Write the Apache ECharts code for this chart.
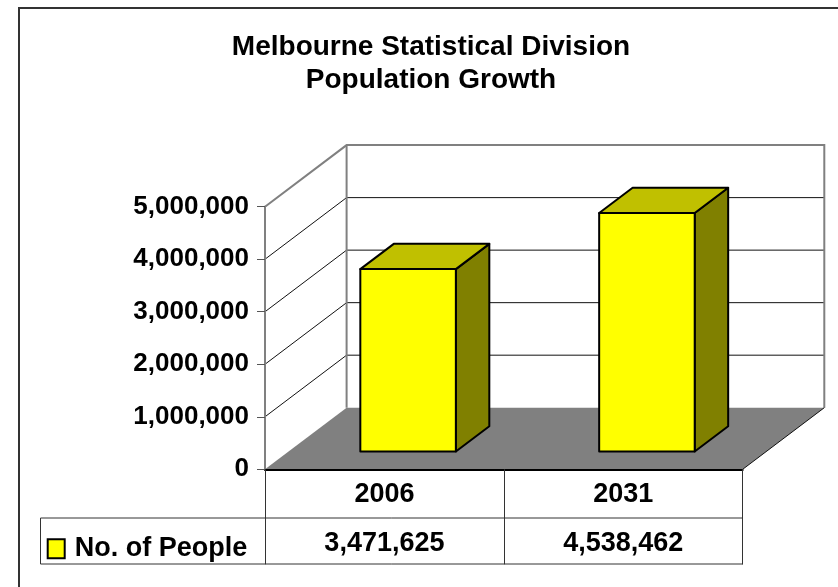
<!DOCTYPE html>
<html>
<head>
<meta charset="utf-8">
<title>Melbourne Statistical Division Population Growth</title>
<script src="https://cdn.jsdelivr.net/npm/echarts@6/dist/echarts.min.js"></script>
<style>
  html, body { margin: 0; padding: 0; background: #fff; }
  #chart { width: 838px; height: 587px; }
</style>
</head>
<body>
<div id="chart"></div>
<script>
// ---- data ----
const titleLines = ['Melbourne Statistical Division', 'Population Growth'];
const categories = ['2006', '2031'];
const seriesName = 'No. of People';
const people = [3471625, 4538462];
const yTicks = [0, 1000000, 2000000, 3000000, 4000000, 5000000];

// ---- look ----
const FONT = '"Liberation Sans", Arial, sans-serif';
const DEPTH_X = 81.6;      // horizontal run of the floor depth
const DEPTH_Y = -61.6;     // vertical run of the floor depth
const BAR_FRONT = 0.29;    // bar front face position along the depth
const BAR_BACK = 0.70;     // bar back face position along the depth
const BAR_WIDTH = 0.40;    // share of a category band
const WALL_EDGE = '#808080';

function fmt(n) {
  return String(n).replace(/\B(?=(\d{3})+(?!\d))/g, ',');
}

const chart = echarts.init(document.getElementById('chart'), null, { renderer: 'canvas' });

// walls, floor and 3D gridlines, laid out from the value axis
function renderWalls(params, api) {
  const cs = params.coordSys;
  const x0 = cs.x, x1 = cs.x + cs.width;
  const yb = api.coord([0, yTicks[0]])[1];
  const yt = api.coord([0, yTicks[yTicks.length - 1]])[1];
  const bx0 = x0 + DEPTH_X, bx1 = x1 + DEPTH_X;
  const children = [];
  // back wall
  children.push({ type: 'rect', shape: { x: bx0, y: yt + DEPTH_Y, width: bx1 - bx0, height: yb - yt },
    style: { fill: '#fff', stroke: null } });
  // side wall
  children.push({ type: 'polygon', shape: { points: [[x0, yb], [x0, yt], [bx0, yt + DEPTH_Y], [bx0, yb + DEPTH_Y]] },
    style: { fill: '#fff', stroke: null } });
  // floor
  children.push({ type: 'polygon', shape: { points: [[x0, yb], [x1, yb], [bx1, yb + DEPTH_Y], [bx0, yb + DEPTH_Y]] },
    style: { fill: '#808080', stroke: null } });
  // gridlines on side and back walls
  yTicks.slice(1, -1).forEach(function (v) {
    const y = api.coord([0, v])[1];
    children.push({ type: 'polyline', shape: { points: [[x0, y], [bx0, y + DEPTH_Y], [bx1, y + DEPTH_Y]] },
      style: { stroke: '#111', lineWidth: 1, fill: null } });
  });
  // wall borders
  children.push({ type: 'polyline', shape: { points: [[x0, yt], [bx0, yt + DEPTH_Y], [bx1, yt + DEPTH_Y], [bx1, yb + DEPTH_Y]] },
    style: { stroke: WALL_EDGE, lineWidth: 2, fill: null } });
  children.push({ type: 'line', shape: { x1: bx0, y1: yt + DEPTH_Y, x2: bx0, y2: yb + DEPTH_Y },
    style: { stroke: WALL_EDGE, lineWidth: 2 } });
  // floor side edge
  children.push({ type: 'line', shape: { x1: x1, y1: yb, x2: bx1, y2: yb + DEPTH_Y },
    style: { stroke: '#111', lineWidth: 1 } });
  return { type: 'group', children: children };
}

// extruded bars
function renderBar(params, api) {
  const idx = api.value(0);
  const base = api.coord([idx, 0]);
  const top = api.coord([idx, api.value(1)]);
  const band = api.size([1, 0])[0];
  const w = band * BAR_WIDTH;
  const fx = base[0] + DEPTH_X * BAR_FRONT - w / 2;
  const fy0 = base[1] + DEPTH_Y * BAR_FRONT;
  const fy1 = top[1] + DEPTH_Y * BAR_FRONT;
  const dx = DEPTH_X * (BAR_BACK - BAR_FRONT);
  const dy = DEPTH_Y * (BAR_BACK - BAR_FRONT);
  const edge = { stroke: '#000', lineWidth: 2, lineJoin: 'round' };
  return {
    type: 'group',
    children: [
      { type: 'polygon', shape: { points: [[fx + w, fy1], [fx + w + dx, fy1 + dy], [fx + w + dx, fy0 + dy], [fx + w, fy0]] },
        style: Object.assign({ fill: '#808000' }, edge) },
      { type: 'polygon', shape: { points: [[fx, fy1], [fx + w, fy1], [fx + w + dx, fy1 + dy], [fx + dx, fy1 + dy]] },
        style: Object.assign({ fill: '#c0c000' }, edge) },
      { type: 'rect', shape: { x: fx, y: fy1, width: w, height: fy0 - fy1 },
        style: Object.assign({ fill: '#ffff00' }, edge) }
    ]
  };
}

// value row of the data table
function renderTableValue(params, api) {
  const idx = api.value(0);
  const base = api.coord([idx, 0]);
  return {
    type: 'text',
    style: {
      x: base[0], y: base[1] + 74, text: fmt(api.value(1)),
      align: 'center', verticalAlign: 'middle',
      fontSize: 27, fontWeight: 'bold', fontFamily: FONT, fill: '#000'
    }
  };
}

const barData = people.map(function (v, i) { return [i, v]; });

const option = {
  backgroundColor: '#fff',
  animation: false,
  title: {
    text: titleLines.join('\n'),
    left: 431, top: 30.5, padding: 0, textAlign: 'center',
    textStyle: { fontSize: 28, fontWeight: 'bold', fontFamily: FONT, color: '#000', lineHeight: 33 }
  },
  legend: {
    left: 46.7, top: 535.3, padding: 0,
    selectedMode: false,
    itemWidth: 17, itemHeight: 19, itemGap: 0,
    data: [{ name: seriesName, icon: 'rect',
      itemStyle: { color: '#ffff00', borderColor: '#000', borderWidth: 2 } }],
    textStyle: { fontSize: 27, fontWeight: 'bold', fontFamily: FONT, color: '#000', padding: [0, 0, 0, 5] }
  },
  grid: { left: 265, right: 95.3, top: 206.7, bottom: 117.7, containLabel: false },
  xAxis: {
    type: 'category', data: categories, z: 10,
    axisLine: { lineStyle: { color: '#000', width: 2 } },
    axisTick: { show: true, interval: 0, length: 95, alignWithLabel: false, lineStyle: { color: '#333', width: 1 } },
    axisLabel: { margin: 25, verticalAlign: 'middle', lineHeight: 27,
      fontSize: 27, fontWeight: 'bold', fontFamily: FONT, color: '#000' },
    splitLine: { show: false }
  },
  yAxis: {
    type: 'value', min: 0, max: 5000000, interval: 1000000, z: 10,
    axisLine: { show: true, lineStyle: { color: WALL_EDGE, width: 2 } },
    axisTick: { show: true, length: 8, lineStyle: { color: '#555', width: 1 } },
    axisLabel: { margin: 16, fontSize: 26, fontWeight: 'bold', fontFamily: FONT, color: '#000',
      formatter: function (v) { return fmt(v); } },
    splitLine: { show: false }
  },
  graphic: [
    // chart area frame
    { type: 'polyline', z: 100, shape: { points: [[19, 600], [19, 8], [850, 8]] },
      style: { stroke: '#333', lineWidth: 2, fill: null } },
    // data table rules
    { type: 'line', z: 100, shape: { x1: 40.5, y1: 518, x2: 743, y2: 518 }, style: { stroke: '#333', lineWidth: 1 } },
    { type: 'line', z: 100, shape: { x1: 40.5, y1: 564, x2: 743, y2: 564 }, style: { stroke: '#333', lineWidth: 1 } },
    { type: 'line', z: 100, shape: { x1: 40.5, y1: 518, x2: 40.5, y2: 564 }, style: { stroke: '#333', lineWidth: 1 } }
  ],
  series: [
    { type: 'custom', name: 'walls', z: 1, silent: true, renderItem: renderWalls, data: [[0, 0]] },
    { type: 'custom', name: seriesName, z: 3, renderItem: renderBar, data: barData,
      itemStyle: { color: '#ffff00' } },
    { type: 'custom', name: 'table', z: 3, silent: true, renderItem: renderTableValue, data: barData }
  ]
};

chart.setOption(option);
</script>
</body>
</html>
